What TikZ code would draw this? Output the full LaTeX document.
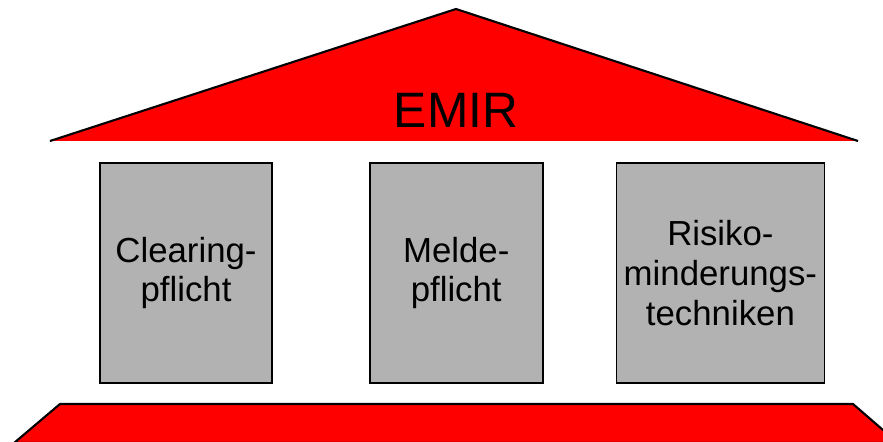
\documentclass[tikz,border=0pt]{standalone}
\usepackage{fontspec}
\setmainfont{Liberation Sans}
\usetikzlibrary{positioning}

\begin{document}
\begin{tikzpicture}[x=0.02cm, y=-0.02cm,
    pillar/.style={draw, line width=1pt, fill=black!30, minimum height=4.4cm, inner sep=0pt, align=center, font=\fontsize{19.8}{22.6}\selectfont},
    edge/.style={line width=1.2pt}]
    \useasboundingbox (0,0) rectangle (883,442);

    % roof
    \coordinate (rl) at (50,141);
    \coordinate (rt) at (456,9);
    \coordinate (rr) at (858,141);
    \fill[red] (rl) -- (rt) -- (rr) -- cycle;
    \draw[edge] (rl) -- (rt) -- (rr);
    \node (emir) at (456,110) {\fontsize{28.3}{32}\selectfont EMIR};

    % pillars
    \node[pillar, minimum width=3.44cm] (clearing) at (186,273) {Clearing-\\pflicht};
    \node[pillar, minimum width=3.46cm, right=1.92cm of clearing] (melde) {Melde-\\pflicht};
    \node[pillar, minimum width=4.16cm, right=1.44cm of melde] (risiko) {Risiko-\\minderungs-\\techniken};

    % base
    \filldraw[fill=red, edge] (14,443) -- (60,404) -- (853,404) -- (898,443) -- cycle;
\end{tikzpicture}
\end{document}
